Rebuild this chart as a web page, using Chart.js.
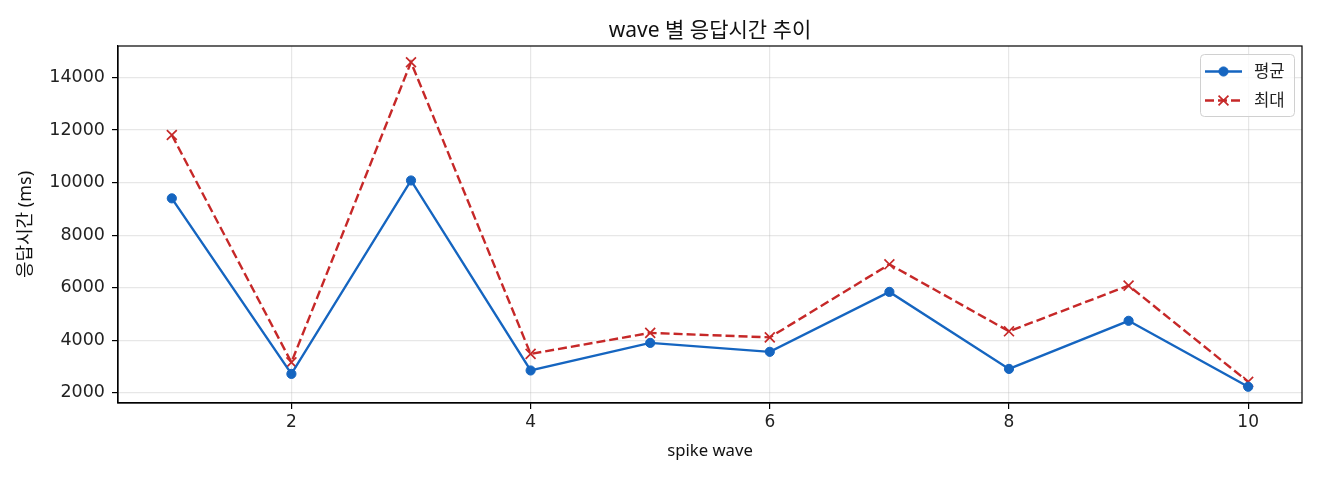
<!DOCTYPE html>
<html>
<head>
<meta charset="utf-8">
<script src="https://cdn.jsdelivr.net/npm/chart.js@4.4.1/dist/chart.umd.min.js"></script>
<style>
  html, body { margin: 0; padding: 0; background: #fff; }
  #wrap { width: 1320px; height: 480px; position: relative; }
</style>
</head>
<body>
<div id="wrap"><canvas id="c" width="1320" height="480"></canvas></div>
<script>
// ---- data ----
const waves = [1, 2, 3, 4, 5, 6, 7, 8, 9, 10];
const avgMs = [9400, 2720, 10080, 2850, 3900, 3560, 5840, 2910, 4740, 2230];
const maxMs = [11810, 3160, 14580, 3480, 4280, 4110, 6890, 4340, 6080, 2420];
const xTicks = [2, 4, 6, 8, 10];
const yTicks = [2000, 4000, 6000, 8000, 10000, 12000, 14000];
const seriesLabels = ['평균', '최대'];
const titleText = 'wave 별 응답시간 추이';
const xTitle = 'spike wave';
const yTitle = '응답시간 (ms)';

const BLUE = '#1565C0';
const RED = '#C62828';
const labelFont = '"Noto Sans", "Noto Sans CJK KR", sans-serif';
const tickFont = '"DejaVu Sans", "Noto Sans CJK KR", sans-serif';

// matplotlib-like 5% margins
const allY = avgMs.concat(maxMs);
const yLo = Math.min(...allY), yHi = Math.max(...allY);
const yPad = (yHi - yLo) * 0.05;
const xLo = Math.min(...waves), xHi = Math.max(...waves);
const xPad = (xHi - xLo) * 0.05;

const frame = {
  id: 'frame',
  afterDraw(chart) {
    const {ctx, chartArea: a} = chart;
    ctx.save();
    ctx.strokeStyle = '#000';
    ctx.lineWidth = 1.2;
    ctx.strokeRect(a.left, a.top, a.right - a.left, a.bottom - a.top);
    ctx.restore();
  }
};

const boxLegend = {
  id: 'boxLegend',
  afterDraw(chart) {
    const {ctx, chartArea: a} = chart;
    const bw = 94, bh = 62;
    const bx = a.right - 8 - bw, by = a.top + 8;
    ctx.save();
    ctx.beginPath();
    if (ctx.roundRect) ctx.roundRect(bx + 0.5, by + 0.5, bw, bh, 4); else ctx.rect(bx + 0.5, by + 0.5, bw, bh);
    ctx.fillStyle = 'rgba(255,255,255,0.8)';
    ctx.fill();
    ctx.strokeStyle = '#d0d0d0';
    ctx.lineWidth = 1;
    ctx.stroke();
    chart.data.datasets.forEach((ds, i) => {
      const y = by + 17.5 + i * 29;
      const x0 = bx + 5, x1 = bx + 42, xm = (x0 + x1) / 2;
      ctx.beginPath();
      ctx.setLineDash(ds.borderDash || []);
      ctx.strokeStyle = ds.borderColor;
      ctx.lineWidth = ds.borderWidth;
      ctx.moveTo(x0, y); ctx.lineTo(x1, y);
      ctx.stroke();
      ctx.setLineDash([]);
      ctx.fillStyle = ds.pointBackgroundColor;
      ctx.strokeStyle = ds.pointBorderColor;
      ctx.lineWidth = ds.pointBorderWidth;
      ctx.beginPath();
      Chart.helpers.drawPoint(ctx, {pointStyle: ds.pointStyle, radius: ds.pointRadius, rotation: 0, borderWidth: ds.pointBorderWidth}, xm, y);
      ctx.fillStyle = '#222';
      ctx.font = '16.7px ' + labelFont;
      ctx.textBaseline = 'middle';
      ctx.textAlign = 'left';
      ctx.fillText(ds.label, bx + 54, y + 1);
    });
    ctx.restore();
  }
};

new Chart(document.getElementById('c'), {
  type: 'line',
  data: {
    datasets: [
      {
        label: seriesLabels[0],
        data: waves.map((w, i) => ({x: w, y: avgMs[i]})),
        borderColor: BLUE, backgroundColor: BLUE,
        borderWidth: 2.4,
        pointStyle: 'circle', pointRadius: 4.6, pointBorderWidth: 1,
        pointBackgroundColor: BLUE, pointBorderColor: BLUE,
        tension: 0
      },
      {
        label: seriesLabels[1],
        data: waves.map((w, i) => ({x: w, y: maxMs[i]})),
        borderColor: RED, backgroundColor: RED,
        borderWidth: 2.4, borderDash: [9, 4],
        pointStyle: 'crossRot', pointRadius: 7, pointBorderWidth: 1.7,
        pointBackgroundColor: RED, pointBorderColor: RED,
        tension: 0
      }
    ]
  },
  options: {
    responsive: false,
    animation: false,
    devicePixelRatio: 1,
    layout: { padding: { left: 0, right: 18, top: 0, bottom: 0 } },
    plugins: {
      legend: { display: false },
      tooltip: { enabled: false },
      title: {
        display: true, text: titleText, color: '#111', fullSize: false,
        font: { family: labelFont, size: 21, weight: 'normal', lineHeight: 1.2 },
        padding: { top: 18, bottom: 2.8 }
      }
    },
    scales: {
      x: {
        type: 'linear',
        min: xLo - xPad, max: xHi + xPad,
        afterFit(s) { s.height = 77; },
        afterBuildTicks(s) { s.ticks = xTicks.map(v => ({value: v})); },
        ticks: { color: '#222', font: { family: tickFont, size: 17 }, padding: 3, maxRotation: 0 },
        grid: { color: 'rgba(176,176,176,0.3)', lineWidth: 1.2, tickColor: '#000', tickLength: 6, tickWidth: 1.2, drawTicks: true },
        border: { display: true, color: '#000', width: 1.2 },
        title: { display: true, text: xTitle, color: '#111', font: { family: labelFont, size: 16.7, lineHeight: 1.2 }, padding: { top: 0, bottom: 19 } }
      },
      y: {
        type: 'linear',
        min: yLo - yPad, max: yHi + yPad,
        afterFit(s) { s.width = 118; },
        afterBuildTicks(s) { s.ticks = yTicks.map(v => ({value: v})); },
        ticks: { color: '#222', font: { family: tickFont, size: 17.5 }, padding: 7, callback: v => String(v) },
        grid: { color: 'rgba(176,176,176,0.3)', lineWidth: 1.2, tickColor: '#000', tickLength: 6, tickWidth: 1.2, drawTicks: true },
        border: { display: true, color: '#000', width: 1.2 },
        title: { display: true, text: yTitle, color: '#111', font: { family: labelFont, size: 18, lineHeight: 1.2 }, padding: { top: 15, bottom: 0 } }
      }
    }
  },
  plugins: [frame, boxLegend]
});
</script>
</body>
</html>
